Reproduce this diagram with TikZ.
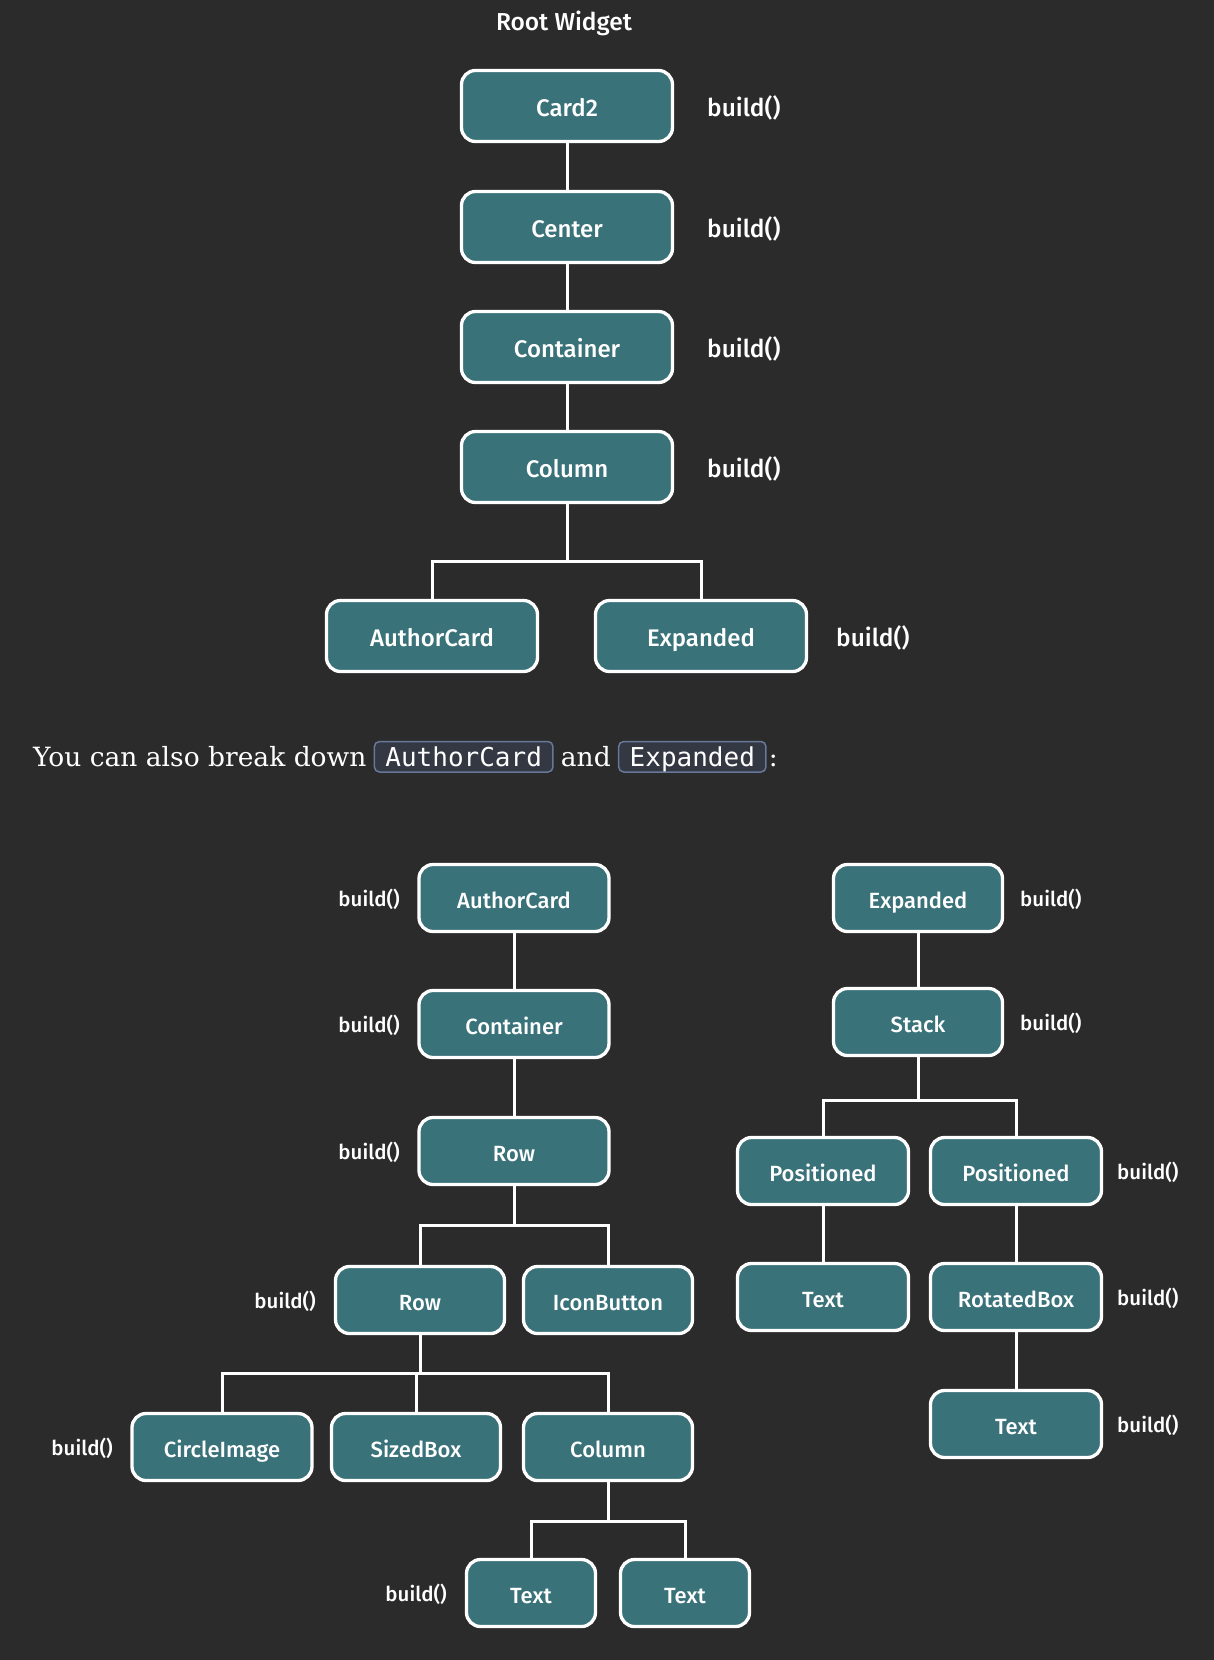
\documentclass[tikz,border=0pt]{standalone}
\usepackage{fontspec}
\setmainfont{DejaVu Serif}
\setsansfont{Fira Sans Medium}
\setmonofont{DejaVu Sans Mono}
\usetikzlibrary{positioning}
\definecolor{flutterbg}{HTML}{2B2B2B}
\definecolor{widgetteal}{HTML}{3A727A}
\definecolor{codefill}{HTML}{333842}
\definecolor{codeedge}{HTML}{67789A}

\begin{document}
\begin{tikzpicture}[x=1pt, y=-1pt,
        widget/.style={rectangle, draw=white, fill=widgetteal, line width=3.3pt, rounded corners=14pt, minimum width=211pt, minimum height=71pt, text=white, inner sep=0pt, text height=20pt, text depth=0pt, font=\sffamily\fontsize{24}{28}\selectfont},
        small/.style={minimum height=67pt, text height=20pt, text depth=0pt, font=\sffamily\fontsize{22}{26}\selectfont},
        buildlbl/.style={text=white, inner sep=0pt, text height=21pt, text depth=0pt, font=\sffamily\fontsize{24.5}{28}\selectfont},
        smallbuild/.style={text=white, inner sep=0pt, text height=16.5pt, text depth=0pt, font=\sffamily\fontsize{20.5}{24}\selectfont},
        link/.style={draw=white, line width=3pt},
        codebox/.style={draw=codeedge, fill=codefill, rounded corners=5pt, line width=1.5pt, text=white, inner xsep=11pt, inner ysep=0.5pt, text height=24pt, text depth=5.5pt, font=\ttfamily\fontsize{26}{30}\selectfont},
        prose/.style={text=white, inner sep=0pt, font=\rmfamily\fontsize{26.5}{31}\selectfont}
    ]
    \fill[flutterbg] (0,0) rectangle (1214,1660);
    \useasboundingbox (0,0) rectangle (1214,1660);

    % Root widget tree
    \node[buildlbl] (roottitle) at (564,20) {Root Widget};
    \node[widget] (card2) at (567,106) {Card2};
    \node[widget] (center) at (567,227) {Center};
    \node[widget] (container) at (567,347) {Container};
    \node[widget] (column) at (567,467) {Column};
    \node[widget] (authorcard) at (432,636) {AuthorCard};
    \node[widget] (expanded) at (701,636) {Expanded};
    \node[buildlbl, anchor=west] (b1) at (707,106) {build()};
    \node[buildlbl, anchor=west] (b2) at (707,227) {build()};
    \node[buildlbl, anchor=west] (b3) at (707,347) {build()};
    \node[buildlbl, anchor=west] (b4) at (707,467) {build()};
    \node[buildlbl, anchor=west] (b5) at (836,636) {build()};
    \draw[link] (card2) -- (center);
    \draw[link] (center) -- (container);
    \draw[link] (container) -- (column);
    \draw[link] (column.south) -- ++(0,57) -| (authorcard.north);
    \draw[link] (column.south) -- ++(0,57) -| (expanded.north);

    % Prose line
    \node[prose, anchor=base west] (txt1) at (33,766) {You can also break down};
    \node[codebox, base right=7pt of txt1] (code1) {AuthorCard};
    \node[prose, base right=7pt of code1] (txt2) {and};
    \node[codebox, base right=7pt of txt2] (code2) {Expanded};
    \node[prose, base right=2pt of code2] (txt3) {:};

    % AuthorCard subtree
    \node[widget, small, minimum width=190pt] (acard) at (514,898) {AuthorCard};
    \node[widget, small, minimum width=190pt] (acontainer) at (514,1024) {Container};
    \node[widget, small, minimum width=190pt] (arow) at (514,1151) {Row};
    \node[widget, small, minimum width=169pt] (arow2) at (420,1300) {Row};
    \node[widget, small, minimum width=169pt] (aicon) at (608,1300) {IconButton};
    \node[widget, small, minimum width=180pt] (acircle) at (222,1447) {CircleImage};
    \node[widget, small, minimum width=169pt] (asized) at (416,1447) {SizedBox};
    \node[widget, small, minimum width=169pt] (acolumn) at (608,1447) {Column};
    \node[widget, small, minimum width=129pt] (atext1) at (531,1593) {Text};
    \node[widget, small, minimum width=129pt] (atext2) at (685,1593) {Text};
    \node[smallbuild, anchor=east] (ab1) at (400,898) {build()};
    \node[smallbuild, anchor=east] (ab2) at (400,1024) {build()};
    \node[smallbuild, anchor=east] (ab3) at (400,1151) {build()};
    \node[smallbuild, anchor=east] (ab4) at (316,1300) {build()};
    \node[smallbuild, anchor=east] (ab5) at (113,1447) {build()};
    \node[smallbuild, anchor=east] (ab6) at (447,1593) {build()};
    \draw[link] (acard) -- (acontainer);
    \draw[link] (acontainer) -- (arow);
    \draw[link] (arow.south) -- ++(0,39) -| (arow2.north);
    \draw[link] (arow.south) -- ++(0,39) -| (aicon.north);
    \draw[link] (arow2.south) -- ++(0,38) -| (acircle.north);
    \draw[link] (arow2.south) -- ++(0,38) -| (asized.north);
    \draw[link] (arow2.south) -- ++(0,38) -| (acolumn.north);
    \draw[link] (acolumn.south) -- ++(0,39) -| (atext1.north);
    \draw[link] (acolumn.south) -- ++(0,39) -| (atext2.north);

    % Expanded subtree
    \node[widget, small, minimum width=169pt] (eexp) at (918,898) {Expanded};
    \node[widget, small, minimum width=169pt] (estack) at (918,1022) {Stack};
    \node[widget, small, minimum width=171pt] (epos1) at (823,1171) {Positioned};
    \node[widget, small, minimum width=171pt] (epos2) at (1016,1171) {Positioned};
    \node[widget, small, minimum width=171pt] (etext1) at (823,1297) {Text};
    \node[widget, small, minimum width=171pt] (erotated) at (1016,1297) {RotatedBox};
    \node[widget, small, minimum width=171pt] (etext2) at (1016,1424) {Text};
    \node[smallbuild, anchor=west] (eb1) at (1020,898) {build()};
    \node[smallbuild, anchor=west] (eb2) at (1020,1022) {build()};
    \node[smallbuild, anchor=west] (eb3) at (1117,1171) {build()};
    \node[smallbuild, anchor=west] (eb4) at (1117,1297) {build()};
    \node[smallbuild, anchor=west] (eb5) at (1117,1424) {build()};
    \draw[link] (eexp) -- (estack);
    \draw[link] (estack.south) -- ++(0,43) -| (epos1.north);
    \draw[link] (estack.south) -- ++(0,43) -| (epos2.north);
    \draw[link] (epos1) -- (etext1);
    \draw[link] (epos2) -- (erotated);
    \draw[link] (erotated) -- (etext2);
\end{tikzpicture}
\end{document}
